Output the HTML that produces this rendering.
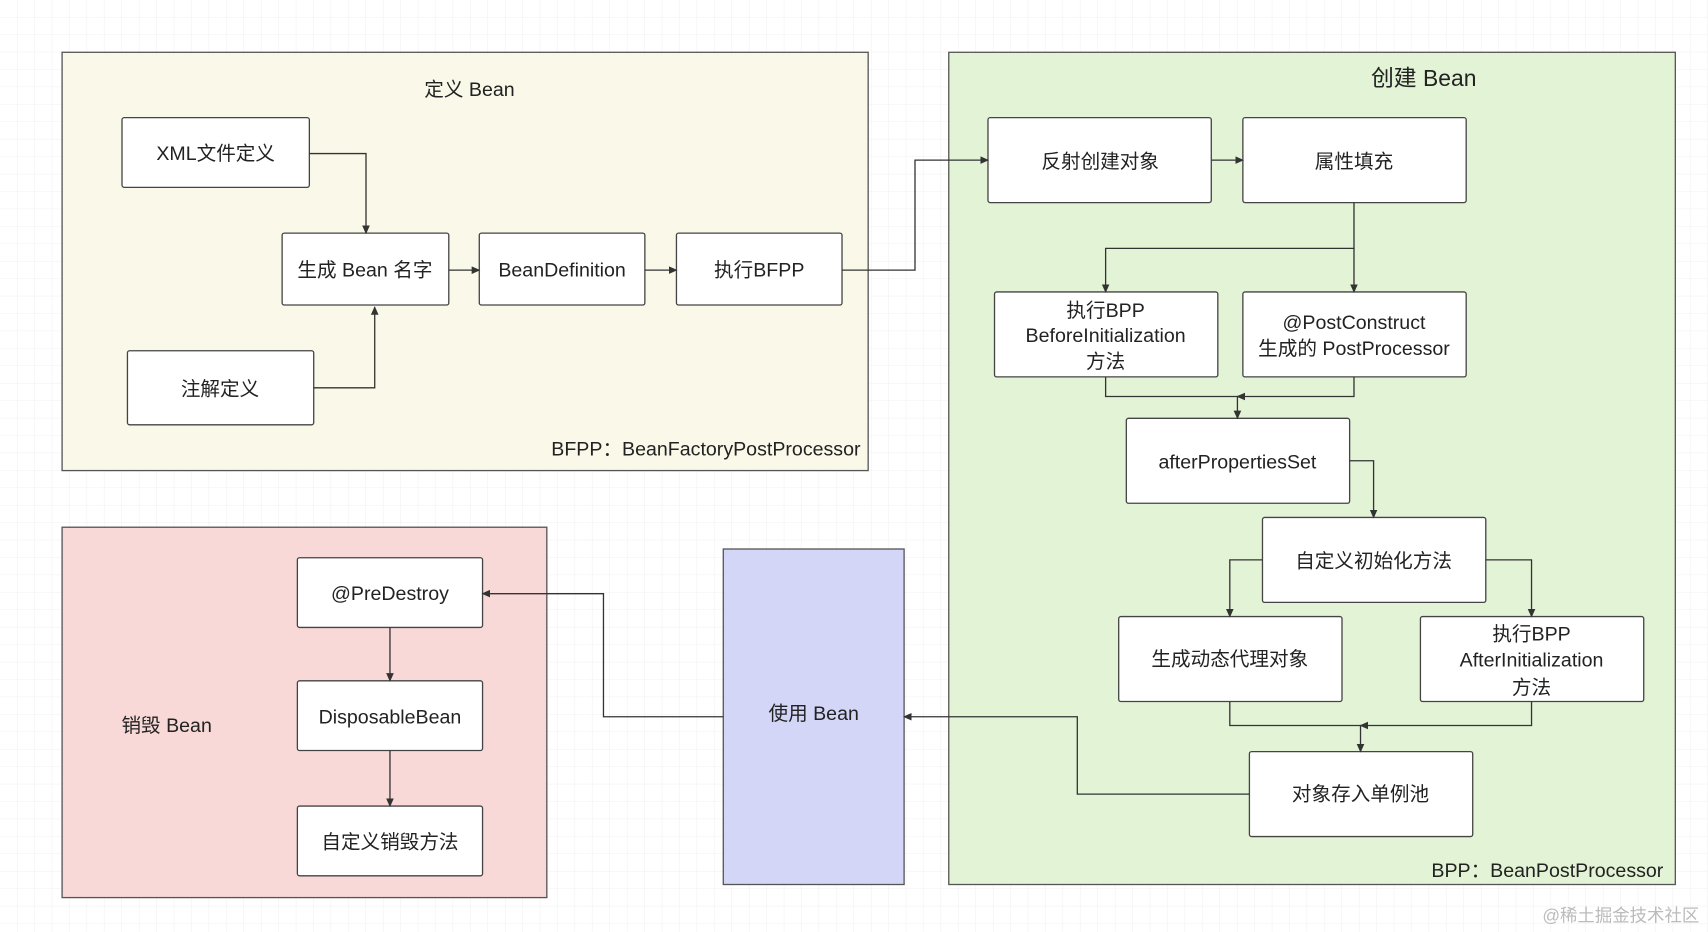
<!DOCTYPE html>
<html><head><meta charset="utf-8"><style>
html,body{margin:0;padding:0;background:#fff;}
svg{display:block;}
text{font-family:"Liberation Sans","Noto Sans CJK SC",sans-serif;fill:#222;}
</style></head><body>
<svg width="1708" height="932" viewBox="0 0 1568 855.6" preserveAspectRatio="none" xmlns="http://www.w3.org/2000/svg">
<defs>
<pattern id="g" width="16" height="16" patternUnits="userSpaceOnUse"><path d="M16 0V16M0 16H16" stroke="#f0f0f0" stroke-width="1" fill="none"/></pattern>
<marker id="a" markerWidth="8" markerHeight="8" refX="7" refY="4" orient="auto" markerUnits="userSpaceOnUse"><path d="M0,0.5 L8,4 L0,7.5 z" fill="#333"/></marker>
</defs>
<rect width="1568" height="856" fill="url(#g)"/>
<!-- panels -->
<rect x="57" y="48" width="740" height="384" fill="#f9f8e9" stroke="#555" stroke-width="1.2"/>
<rect x="871" y="48" width="667" height="764" fill="#e3f3d6" stroke="#555" stroke-width="1.2"/>
<rect x="57" y="484" width="445" height="340" fill="#f8d9d8" stroke="#555" stroke-width="1.2"/>
<rect x="664" y="504" width="166" height="308" fill="#d3d6f6" stroke="#555" stroke-width="1.2"/>
<g font-size="18">
<text x="431" y="88" text-anchor="middle">定义 Bean</text>
<text x="1307" y="79" text-anchor="middle" font-size="21">创建 Bean</text>
<text x="790" y="418" text-anchor="end">BFPP：BeanFactoryPostProcessor</text>
<text x="1527" y="805" text-anchor="end">BPP：BeanPostProcessor</text>
<text x="153" y="672" text-anchor="middle">销毁 Bean</text>
<text x="747" y="661" text-anchor="middle">使用 Bean</text>
</g>
<!-- boxes -->
<g fill="#fff" stroke="#444" stroke-width="1.2">
<rect x="112" y="108" width="172" height="64" rx="2"/>
<rect x="259" y="214" width="153" height="66" rx="2"/>
<rect x="440" y="214" width="152" height="66" rx="2"/>
<rect x="621" y="214" width="152" height="66" rx="2"/>
<rect x="117" y="322" width="171" height="68" rx="2"/>
<rect x="907" y="108" width="205" height="78" rx="2"/>
<rect x="1141" y="108" width="205" height="78" rx="2"/>
<rect x="913" y="268" width="205" height="78" rx="2"/>
<rect x="1141" y="268" width="205" height="78" rx="2"/>
<rect x="1034" y="384" width="205" height="78" rx="2"/>
<rect x="1159" y="475" width="205" height="78" rx="2"/>
<rect x="1027" y="566" width="205" height="78" rx="2"/>
<rect x="1304" y="566" width="205" height="78" rx="2"/>
<rect x="1147" y="690" width="205" height="78" rx="2"/>
<rect x="273" y="512" width="170" height="64" rx="2"/>
<rect x="273" y="625" width="170" height="64" rx="2"/>
<rect x="273" y="740" width="170" height="64" rx="2"/>
</g>
<g font-size="18" text-anchor="middle">
<text x="198" y="147">XML文件定义</text>
<text x="335" y="254">生成 Bean 名字</text>
<text x="516" y="254">BeanDefinition</text>
<text x="697" y="254">执行BFPP</text>
<text x="202" y="363">注解定义</text>
<text x="1010" y="154">反射创建对象</text>
<text x="1243" y="154">属性填充</text>
<text x="1015" y="291">执行BPP</text>
<text x="1015" y="314">BeforeInitialization</text>
<text x="1015" y="338">方法</text>
<text x="1243" y="302">@PostConstruct</text>
<text x="1243" y="326">生成的 PostProcessor</text>
<text x="1136" y="430">afterPropertiesSet</text>
<text x="1261" y="521">自定义初始化方法</text>
<text x="1129" y="611">生成动态代理对象</text>
<text x="1406" y="588">执行BPP</text>
<text x="1406" y="612">AfterInitialization</text>
<text x="1406" y="637">方法</text>
<text x="1249" y="735">对象存入单例池</text>
<text x="358" y="551">@PreDestroy</text>
<text x="358" y="664">DisposableBean</text>
<text x="358" y="779">自定义销毁方法</text>
</g>
<!-- connectors -->
<g fill="none" stroke="#333" stroke-width="1.2" marker-end="url(#a)">
<path d="M284 141H336V214"/>
<path d="M288 356H344V282"/>
<path d="M412 248H440"/>
<path d="M592 248H621"/>
<path d="M773 248H840V147H907"/>
<path d="M1112 147H1141"/>
<path d="M1243 186V228H1015V268"/>
<path d="M1243 228V268"/>
<path d="M1015 346V364H1136V384"/>
<path d="M1243 346V364H1136"/>
<path d="M1239 423H1261V475"/>
<path d="M1159 514H1129V566"/>
<path d="M1364 514H1406V566"/>
<path d="M1129 644V666H1249V690"/>
<path d="M1406 644V666H1249"/>
<path d="M1147 729H989V658H830"/>
<path d="M664 658H554V545H443"/>
<path d="M358 576V625"/>
<path d="M358 689V740"/>
</g>
<text x="1560" y="846" text-anchor="end" font-size="16" style="fill:#bbb">@稀土掘金技术社区</text>
</svg>
</body></html>
